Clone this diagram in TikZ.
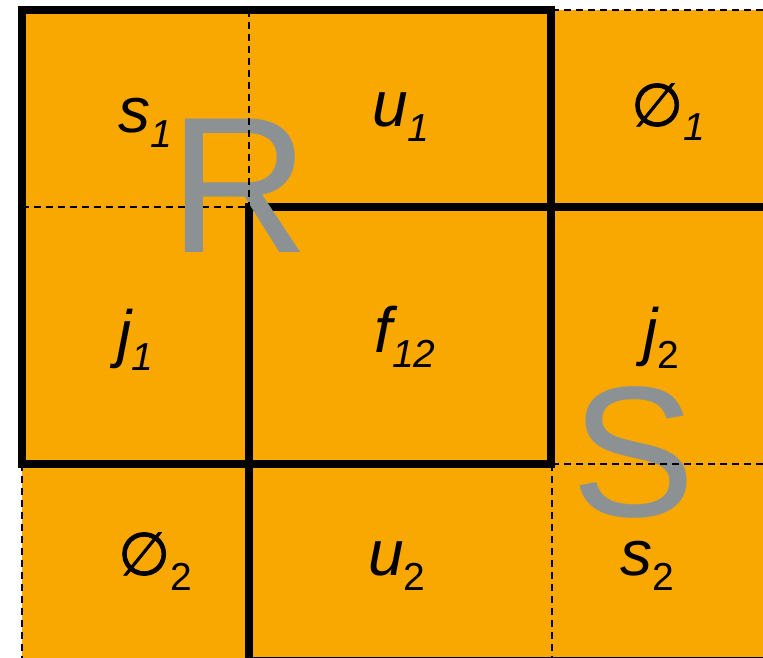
\documentclass[tikz,border=0pt]{standalone}
\usepackage{fontspec}
\setmainfont{Liberation Sans}
\newfontfamily\symfont[FakeBold=1.2]{DejaVu Sans}
\definecolor{cellorange}{RGB}{248,168,0}
\definecolor{bigletter}{RGB}{140,146,148}
\newcommand\celllbl[2]{{\fontsize{64}{64}\selectfont #1}\raisebox{-15pt}{\fontsize{39}{39}\selectfont #2}}
\newcommand\emptysym{{\symfont\fontsize{60}{60}\selectfont ∅}}
\begin{document}
\begin{tikzpicture}[x=1pt,y=-1pt,
  thickbox/.style={draw=black,line width=8pt},
  thindash/.style={draw=black,line width=1.8pt,dash pattern=on 7pt off 5pt},
  lbl/.style={anchor=base,inner sep=0pt,text=black},
  bigl/.style={anchor=base,inner sep=0pt,text=bigletter}]
\useasboundingbox (0,0) rectangle (763,658);
\clip (0,0) rectangle (763,658);
% orange grid fill
\fill[cellorange] (22,10) rectangle (780,680);
% thick rectangles R and S
\draw[thickbox] (22,10) rectangle (551,464);
\draw[thickbox] (249,207) rectangle (775,661);
% dashed lines
\coordinate (a1) at (22,207); \coordinate (a2) at (249,207);
\draw[thindash] (a1) -- (a2);
% big letters
\node[bigl] (R) at (240,252) {\fontsize{194}{194}\selectfont R};
\node[bigl] (S) at (634,516) {\fontsize{186}{186}\selectfont S};
\coordinate (b1) at (249,10); \coordinate (b2) at (249,207);
\draw[thindash] (b1) -- (b2);
\coordinate (c1) at (552,10); \coordinate (c2) at (770,10);
\draw[thindash] (c1) -- (c2);
\coordinate (d1) at (22,464); \coordinate (d2) at (22,670);
\draw[thindash] (d1) -- (d2);
\coordinate (e1) at (552,464); \coordinate (e2) at (770,464);
\draw[thindash] (e1) -- (e2);
\coordinate (f1) at (552,464); \coordinate (f2) at (552,670);
\draw[thindash] (f1) -- (f2);
% cell labels
\node[lbl] (s1) at (145,132) {\celllbl{\itshape s}{\itshape 1}};
\node[lbl] (u1) at (401,127) {\celllbl{\itshape u}{\itshape 1}};
\node[lbl] (o1) at (668,126) {\emptysym\raisebox{-15pt}{\fontsize{39}{39}\selectfont\itshape 1}};
\node[lbl] (j1) at (135,355) {\celllbl{\itshape j}{\itshape 1}};
\node[lbl] (f12) at (405,352) {\celllbl{\itshape f}{\itshape 12}};
\node[lbl] (j2) at (661,353) {\celllbl{\itshape j}{2}};
\node[lbl] (o2) at (155,575) {\emptysym\raisebox{-15pt}{\fontsize{39}{39}\selectfont 2}};
\node[lbl] (u2) at (397,575) {\celllbl{\itshape u}{2}};
\node[lbl] (s2) at (647,575) {\celllbl{\itshape s}{2}};
\end{tikzpicture}
\end{document}
